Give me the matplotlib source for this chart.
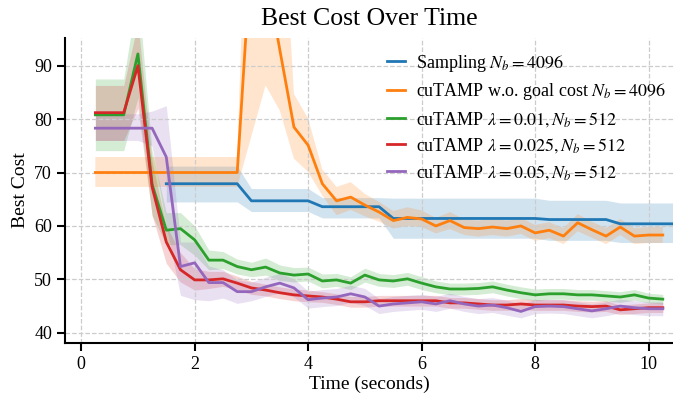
import matplotlib
matplotlib.use('Agg')
import matplotlib.pyplot as plt

plt.rcParams['font.family'] = ['Liberation Serif', 'DejaVu Serif']
plt.rcParams['mathtext.fontset'] = 'stix'

# Data (seconds, best cost)
t = [0.25, 0.5, 0.75, 1.0, 1.25, 1.5, 1.75, 2.0, 2.25, 2.5, 2.75, 3.0, 3.25, 3.5,
     3.75, 4.0, 4.25, 4.5, 4.75, 5.0, 5.25, 5.5, 5.75, 6.0, 6.25, 6.5, 6.75, 7.0,
     7.25, 7.5, 7.75, 8.0, 8.25, 8.5, 8.75, 9.0, 9.25, 9.5, 9.75, 10.0, 10.25]

t_sampling = [1.5, 1.75, 2.0, 2.25, 2.5, 2.75, 3.0, 3.25, 3.5, 3.75, 4.0, 4.25,
              4.5, 4.75, 5.0, 5.25, 5.5, 5.75, 6.0, 6.25, 6.5, 6.75, 7.0, 7.25,
              7.5, 7.75, 8.0, 8.25, 8.5, 8.75, 9.0, 9.25, 9.5, 9.75, 10.0, 10.25, 10.5]
sampling = [67.9] * 6 + [64.7] * 5 + [63.6] * 5 + [61.4] * 11 + [61.2] * 5 + [60.4] * 5
sampling_lo = [64.5] * 6 + [62.7] * 5 + [61.5] * 5 + [57.7] * 11 + [57.3] * 5 + [56.9] * 5
sampling_hi = [71.2] * 6 + [67.0] * 5 + [65.3] * 5 + [65.2] * 11 + [64.8] * 5 + [64.3] * 5

no_goal = [70.0] * 11 + [112.0, 108.0, 93.0, 78.5, 75.1, 67.9, 64.7, 65.4, 63.9, 62.6,
           61.0, 61.6, 61.3, 60.0, 61.0, 59.7, 59.5, 59.8, 59.5, 60.0, 58.7, 59.2,
           58.1, 60.6, 59.3, 58.1, 59.8, 58.1, 58.3, 58.3]
no_goal_lo = [67.3] * 11 + [76.8, 86.3, 81.6, 72.6, 70.1, 65.7, 62.0, 63.0, 61.8, 60.8,
              59.5, 60.0, 59.8, 58.6, 59.4, 58.3, 58.0, 58.3, 58.0, 58.5, 57.2, 57.7,
              56.6, 59.0, 57.8, 56.6, 58.3, 56.6, 56.8, 56.8]
no_goal_hi = [72.9] * 11 + [150.0, 150.0, 130.0, 84.7, 80.1, 70.6, 67.3, 68.2, 66.0, 64.5,
              62.8, 63.5, 62.9, 61.5, 62.6, 61.2, 61.0, 61.4, 61.0, 61.5, 60.2, 60.7,
              59.6, 62.2, 60.8, 59.6, 61.3, 59.6, 59.8, 59.8]

lam_001 = [80.8, 80.8, 80.8, 92.2, 67.8, 59.2, 59.5, 57.4, 53.6, 53.6, 52.4, 51.8, 52.3,
           51.2, 50.8, 51.0, 49.7, 49.9, 49.3, 50.8, 49.9, 49.7, 50.1, 49.3, 48.6, 48.2,
           48.2, 48.3, 48.6, 48.0, 47.5, 47.1, 47.3, 47.3, 47.1, 47.1, 46.9, 46.7, 47.1,
           46.5, 46.3]
lam_001_lo = [74.1, 74.1, 74.1, 84.0, 62.0, 56.5, 56.5, 54.5, 51.8, 52.0, 51.0, 50.5, 50.8,
              49.8, 49.5, 49.7, 48.4, 48.7, 48.1, 49.5, 48.7, 48.5, 48.9, 48.1, 47.5, 47.1,
              47.1, 47.2, 47.5, 46.9, 46.4, 46.0, 46.3, 46.3, 46.1, 46.1, 45.9, 45.7, 46.1,
              45.6, 45.4]
lam_001_hi = [87.5, 87.5, 87.5, 104.0, 74.0, 62.5, 62.5, 60.0, 55.5, 55.2, 53.8, 53.2, 54.0,
              52.7, 52.2, 52.3, 51.0, 51.1, 50.5, 52.1, 51.1, 50.9, 51.3, 50.5, 49.7, 49.3,
              49.3, 49.4, 49.7, 49.1, 48.6, 48.2, 48.3, 48.3, 48.1, 48.1, 47.9, 47.7, 48.1,
              47.4, 47.2]

lam_0025 = [81.2, 81.2, 81.2, 90.0, 67.3, 57.0, 51.8, 49.9, 49.9, 50.1, 49.3, 48.4, 48.0,
            47.5, 47.1, 46.9, 46.7, 46.3, 45.8, 45.8, 46.0, 46.0, 46.0, 46.0, 46.0, 45.6,
            45.6, 45.4, 45.2, 45.2, 45.4, 45.2, 45.2, 45.2, 45.0, 44.9, 45.0, 44.3, 44.5,
            44.7, 44.7]
lam_0025_lo = [76.0, 76.0, 76.0, 82.0, 62.0, 53.0, 49.5, 48.0, 48.3, 48.7, 48.0, 47.2, 46.9,
               46.4, 46.0, 45.8, 45.7, 45.3, 44.8, 44.8, 45.0, 45.0, 45.0, 45.0, 45.0, 44.6,
               44.6, 44.4, 44.2, 44.2, 44.4, 44.2, 44.2, 44.2, 44.0, 43.9, 44.0, 43.4, 43.6,
               43.8, 43.8]
lam_0025_hi = [86.3, 86.3, 86.3, 98.0, 72.0, 60.0, 55.0, 52.0, 51.5, 51.5, 50.6, 49.6, 49.1,
               48.6, 48.2, 48.0, 47.7, 47.3, 46.8, 46.8, 47.0, 47.0, 47.0, 47.0, 47.0, 46.6,
               46.6, 46.4, 46.2, 46.2, 46.4, 46.2, 46.2, 46.2, 46.0, 45.9, 46.0, 45.2, 45.4,
               45.6, 45.6]

lam_005 = [78.3, 78.3, 78.3, 78.3, 78.3, 72.9, 52.4, 53.1, 49.4, 49.4, 47.7, 47.7, 48.6,
           49.3, 48.4, 46.2, 46.5, 46.7, 47.3, 46.7, 45.0, 45.4, 45.6, 45.8, 45.4, 46.0,
           45.4, 45.0, 45.2, 44.7, 44.0, 44.9, 45.0, 44.9, 44.5, 44.1, 44.5, 45.0, 44.7,
           44.5, 44.5]
lam_005_lo = [76.0, 76.0, 76.0, 76.0, 75.0, 60.0, 47.0, 46.2, 46.0, 46.5, 45.5, 46.0, 46.8,
              47.5, 46.7, 44.6, 44.9, 45.1, 45.7, 45.1, 43.6, 44.0, 44.2, 44.4, 44.0, 44.6,
              44.0, 43.6, 43.8, 43.3, 42.8, 43.6, 43.7, 43.6, 43.2, 42.8, 43.2, 43.7, 43.4,
              43.2, 43.2]
lam_005_hi = [81.0, 81.0, 81.0, 81.0, 81.5, 82.5, 57.0, 57.0, 52.5, 51.8, 49.9, 49.5, 50.4,
              51.1, 50.1, 47.8, 48.1, 48.3, 48.9, 48.3, 46.4, 46.8, 47.0, 47.2, 46.8, 47.4,
              46.8, 46.4, 46.6, 46.1, 45.4, 46.2, 46.3, 46.2, 45.8, 45.4, 45.8, 46.3, 46.0,
              45.8, 45.8]

series = [
    (t_sampling, sampling, sampling_lo, sampling_hi, r'Sampling $N_b = 4096$', 'tab:blue'),
    (t, no_goal, no_goal_lo, no_goal_hi, r'cuTAMP w.o. goal cost $N_b = 4096$', 'tab:orange'),
    (t, lam_001, lam_001_lo, lam_001_hi, r'cuTAMP $\lambda = 0.01, N_b = 512$', 'tab:green'),
    (t, lam_0025, lam_0025_lo, lam_0025_hi, r'cuTAMP $\lambda = 0.025, N_b = 512$', 'tab:red'),
    (t, lam_005, lam_005_lo, lam_005_hi, r'cuTAMP $\lambda = 0.05, N_b = 512$', 'tab:purple'),
]

fig, ax = plt.subplots(figsize=(6.73, 4.03), dpi=100)
fig.subplots_adjust(left=0.097, right=1.0, bottom=0.149, top=0.906)

for x, y, lo, hi, label, color in series:
    ax.fill_between(x, lo, hi, color=color, alpha=0.2, linewidth=0)
    ax.plot(x, y, color=color, linewidth=2.0, label=label)

ax.set_xlim(-0.28, 10.43)
ax.set_ylim(38.1, 95.2)
ax.set_xticks([0, 2, 4, 6, 8, 10])
ax.set_yticks([40, 50, 60, 70, 80, 90])
ax.grid(True, linestyle='--', color='#cccccc', linewidth=0.9)

for side in ['top', 'right']:
    ax.spines[side].set_visible(False)
for side in ['left', 'bottom']:
    ax.spines[side].set_linewidth(1.5)
ax.tick_params(direction='out', length=6, width=1.5, labelsize=13)

ax.set_xlabel('Time (seconds)', fontsize=14, labelpad=2)
ax.set_ylabel('Best Cost', fontsize=14, labelpad=4)
ax.set_title('Best Cost Over Time', fontsize=18.5, pad=9)
ax.legend(loc='upper right', bbox_to_anchor=(1.0, 0.975), frameon=False, fontsize=13,
          handlelength=1.0, handletextpad=0.6, borderaxespad=0.0, labelspacing=0.42)

plt.savefig('out.png', dpi=100)
